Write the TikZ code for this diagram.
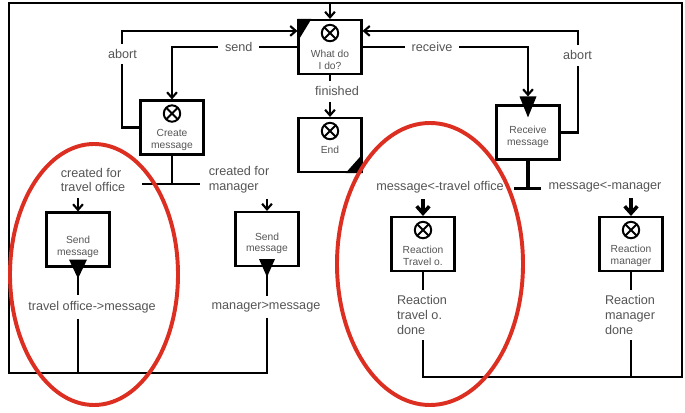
\documentclass[tikz,border=0pt]{standalone}
\usepackage{fontspec}
\setmainfont{Liberation Sans}
\usetikzlibrary{arrows.meta, positioning, calc}
\definecolor{TextGray}{HTML}{555555}
\definecolor{MarkRed}{HTML}{DC2F22}
\newcommand{\tdrop}[1]{\rule{0pt}{#1}}
\tikzset{
    stepbox/.style={draw, line width=1.5pt, fill=white, align=center, text=TextGray, font=\fontsize{7.3}{8.5}\selectfont, minimum width=1.575cm, minimum height=1.35cm, inner sep=0pt},
    xorsign/.style={circle, draw, line width=1.4pt, minimum size=0.41cm, inner sep=0pt, path picture={\draw[line width=1.4pt] (path picture bounding box.north west) -- (path picture bounding box.south east) (path picture bounding box.south west) -- (path picture bounding box.north east);}},
    lbl/.style={fill=white, text=TextGray, font=\fontsize{9}{10.5}\selectfont, align=center, inner xsep=5pt, inner ysep=4pt},
    flow/.style={line width=1.5pt},
    bold/.style={line width=2.5pt},
    arr/.style={flow, -{Straight Barb[length=4pt, width=7pt, line width=1.5pt]}},
    boldarr/.style={bold, -{Straight Barb[length=5pt, width=9pt, line width=2.5pt]}},
    ring/.style={draw=MarkRed, line width=2.8pt}
}

\begin{document}
\begin{tikzpicture}[x=0.025cm, y=-0.025cm]
    \useasboundingbox (0,0) rectangle (685,413);

    % steps
    \node[stepbox] (wdid) at (330,47) {\tdrop{23pt}What do\\I do?};
    \node[stepbox] (create) at (172,127.5) {\tdrop{22.8pt}Create\\message};
    \node[stepbox] (endbox) at (330,145) {\tdrop{12pt}End};
    \node[stepbox] (receive) at (528,132.5) {\tdrop{11.4pt}Receive\\message};
    \node[stepbox] (sendto) at (78,239.5) {\tdrop{16.4pt}Send\\message};
    \node[stepbox] (sendmg) at (267,239) {\tdrop{11.5pt}Send\\message};
    \node[stepbox] (reactto) at (423,244) {\tdrop{22pt}Reaction\\Travel o.};
    \node[stepbox] (reactmg) at (631,244) {\tdrop{22pt}Reaction\\manager};

    \foreach \b in {wdid, create, endbox, reactto, reactmg}
        \node[xorsign, below=3.5pt of \b.north] (x\b) {};

    % labels
    \node[lbl, align=left] (ctto) at (93,180) {created for\\travel office};
    \node[lbl, align=left] (ctmg) at (239,180) {created for\\manager};
    \node[lbl] (tomsg) at (92,307) {travel office->message};
    \node[lbl] (mgmsg) at (266,307) {manager>message};
    \node[lbl] (mto) at (440,187) {message<-travel office};
    \node[lbl] (mmg) at (605,187) {message<-manager};
    \node[lbl, align=left] (rtd) at (422,315) {Reaction\\travel o.\\done};
    \node[lbl, align=left] (rmd) at (630,315) {Reaction\\manager\\done};

    \coordinate (tl) at (9,3);
    \coordinate (tr) at (682,3);
    \coordinate (bl) at (9,373);
    \coordinate (br) at (682,377);
    \coordinate (top) at (wdid.north |- tl);
    \coordinate (win) at ($(wdid.north west)+(0,12)$);
    \coordinate (ein) at ($(wdid.north east)+(0,12)$);
    \coordinate (sout) at ($(wdid.north west)+(0,28)$);
    \coordinate (rout) at ($(wdid.north east)+(0,28)$);
    \coordinate (rtip) at ($(receive.north)+(0,-8)$);
    \coordinate (cbar) at ($(create.south)+(0,28)$);
    \coordinate (rbar) at ($(receive.south)+(0,28)$);

    % markers
    \fill (wdid.north west) -- ++(14,0) -- ++(-14,23) -- cycle;
    \fill (endbox.south east) -- ++(-17,0) -- ++(17,-19) -- cycle;
    \fill ($(rtip)+(-8.5,0)$) -- ++(17,0) -- ($(receive.north)+(0,13)$) -- cycle;
    \fill ($(sendto.south)+(-9,-8)$) -- ++(18,0) -- ($(sendto.south)+(0,11)$) -- cycle;
    \fill ($(sendmg.south)+(-8,-8)$) -- ++(16,0) -- ($(sendmg.south)+(0,10)$) -- cycle;

    % connectors
    \draw[arr] (top) -- (wdid.north);
    \draw[arr] (create.west) -- ++(-17,0) |- node[lbl, pos=0.38] {abort} (win);
    \draw[arr] (receive.east) -- ++(17,0) |- node[lbl, pos=0.38] {abort} (ein);
    \draw[arr] (sout) -| node[lbl, pos=0.234] {send} (create.north);
    \draw[arr] (rout) -| node[lbl, pos=0.21] {receive} (rtip);
    \draw[arr] (wdid.south) -- node[lbl, pos=0.39, xshift=5pt] {finished} (endbox.north);

    \draw[flow] (create.south) -- (cbar);
    \draw[flow] ($(cbar)+(-30,0)$) -- ($(cbar)+(28,0)$);
    \draw[arr] (sendto.north |- ctto.south) -- (sendto.north);
    \draw[arr] (sendmg.north |- ctmg.south) -- (sendmg.north);

    \draw[bold] (receive.south) -- (rbar);
    \draw[bold] ($(rbar)+(-14,0)$) -- ($(rbar)+(13,0)$);
    \draw[boldarr] (reactto.north |- mto.south) -- (reactto.north);
    \draw[boldarr] (reactmg.north |- mmg.south) -- (reactmg.north);

    \draw[flow] (sendto.south) -- (sendto.south |- tomsg.north);
    \draw[flow] (sendmg.south) -- (sendmg.south |- mgmsg.north);
    \draw[flow] (sendto.south |- tomsg.south) -- (sendto.south |- bl);
    \draw[flow] (sendmg.south |- mgmsg.south) -- (sendmg.south |- bl) -- (bl) -- (tl) -- (top);

    \draw[flow] (reactto.south) -- (reactto.south |- rtd.north);
    \draw[flow] (reactmg.south) -- (reactmg.south |- rmd.north);
    \draw[flow] (reactmg.south |- rmd.south) -- (reactmg.south |- br);
    \draw[flow] (reactto.south |- rtd.south) -- (reactto.south |- br) -- (br) -- (tr) -- (top);

    % highlights
    \draw[ring] (94,274.5) ellipse [x radius=84, y radius=130.5];
    \draw[ring] (430,264) ellipse [x radius=93, y radius=141];
\end{tikzpicture}
\end{document}
